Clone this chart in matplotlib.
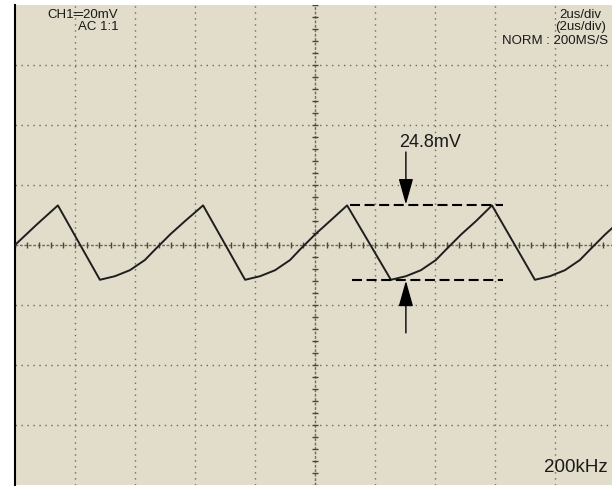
import numpy as np
import matplotlib.pyplot as plt

plt.rcParams['font.family'] = ['Liberation Sans', 'DejaVu Sans']

# scope settings: 2 us/div horizontally, 20 mV/div vertically
x_divs = 10
y_divs = 8
us_per_div = 2.0
mv_per_div = 20.0

# captured trace (time in us, voltage in mV)
trace_t = [0.0, 0.7, 1.43, 2.83, 3.33, 3.83, 4.33, 4.67, 5.17, 5.67, 6.27,
           7.67, 8.17, 8.67, 9.17, 9.5, 10.0, 10.5, 11.07,
           12.53, 13.03, 13.53, 14.03, 14.37, 14.87, 15.37, 15.9,
           17.33, 17.83, 18.33, 18.83, 19.17, 19.67, 20.0]
trace_mv = [0.0, 6.6, 13.2, -11.6, -10.4, -8.4, -5.0, -1.5, 3.5, 8.0, 13.2,
            -11.6, -10.4, -8.4, -5.0, -1.5, 3.5, 8.0, 13.2,
            -11.6, -10.4, -8.4, -5.0, -1.5, 3.5, 8.0, 13.2,
            -11.6, -10.4, -8.4, -5.0, -1.5, 3.5, 6.5]

ripple_mv = 24.8
peak_mv = 13.2
trough_mv = peak_mv - ripple_mv

bg = '#e2dcca'
grid_col = '#6e6a5c'

fig = plt.figure(figsize=(6.12, 4.86), dpi=100)
ax = fig.add_axes([15 / 612, 1 / 486, 600 / 612, 480 / 486])
ax.set_facecolor(bg)

xmax = x_divs * us_per_div
ymax = y_divs / 2 * mv_per_div
ax.set_xlim(0, xmax)
ax.set_ylim(-ymax, ymax)
ax.set_xticks([])
ax.set_yticks([])
for s in ['top', 'right', 'bottom']:
    ax.spines[s].set_visible(False)
ax.spines['left'].set_linewidth(1.5)
ax.spines['left'].set_color('black')

# dotted graticule
for i in range(1, x_divs):
    if i == x_divs // 2:
        continue
    ax.axvline(i * us_per_div, color=grid_col, lw=1.0, ls=(0, (1, 3.3)), zorder=1)
for j in range(1, y_divs):
    if j == y_divs // 2:
        continue
    ax.axhline(-ymax + j * mv_per_div, color=grid_col, lw=1.0, ls=(0, (1, 3.3)), zorder=1)

# centre cross with minor ticks (5 per division)
xc = xmax / 2
ax.axvline(xc, color=grid_col, lw=1.0, ls=(0, (2, 1.2)), zorder=1)
ax.axhline(0, color=grid_col, lw=1.0, ls=(0, (2, 1.2)), zorder=1)
minor_x = np.arange(0, xmax + 0.01, us_per_div / 5)
minor_y = np.arange(-ymax, ymax + 0.01, mv_per_div / 5)
ax.vlines(minor_x, -0.9, 0.9, color='#4a463c', lw=1.0, zorder=1)
ax.hlines(minor_y, xc - 0.1, xc + 0.1, color='#4a463c', lw=1.0, zorder=1)

# waveform
ax.plot(trace_t, trace_mv, color='#1e1e1e', lw=1.4, zorder=3)

# ripple measurement markers
ax.hlines(peak_mv, 11.17, 16.27, color='black', lw=1.5, ls=(0, (4.8, 2.2)), zorder=4)
ax.hlines(trough_mv, 11.23, 16.27, color='black', lw=1.5, ls=(0, (4.8, 2.2)), zorder=4)
arrow = dict(arrowstyle='-|>,head_length=1.6,head_width=0.45', mutation_scale=10,
             color='black', lw=1.0, shrinkA=0, shrinkB=0)
ax.annotate('', xy=(13.03, peak_mv + 0.3), xytext=(13.03, 31.0), arrowprops=arrow, zorder=5)
ax.annotate('', xy=(13.03, trough_mv - 0.3), xytext=(13.03, -29.3), arrowprops=arrow, zorder=5)
ax.text(13.83, 34.3, f'{ripple_mv}mV', fontsize=13, ha='center', va='center', color='#1a1a1a')

# readouts
small = dict(fontsize=9.5, color='#1a1a1a', va='center')
ax.text(1.07, 76.7, 'CH1\u2550' + '20mV', ha='left', **small)
ax.text(2.1, 72.7, 'AC 1:1', ha='left', **small)
ax.text(18.13, 76.7, '2us/div', ha='left', **small)
ax.text(18.0, 72.7, '(2us/div)', ha='left', **small)
ax.text(19.77, 68.0, 'NORM : 200MS/S', ha='right', **small)
ax.text(19.77, -74.0, '200kHz', ha='right', va='center', fontsize=13.5, color='#1a1a1a')

fig.savefig('out.png', dpi=100, facecolor='white')
